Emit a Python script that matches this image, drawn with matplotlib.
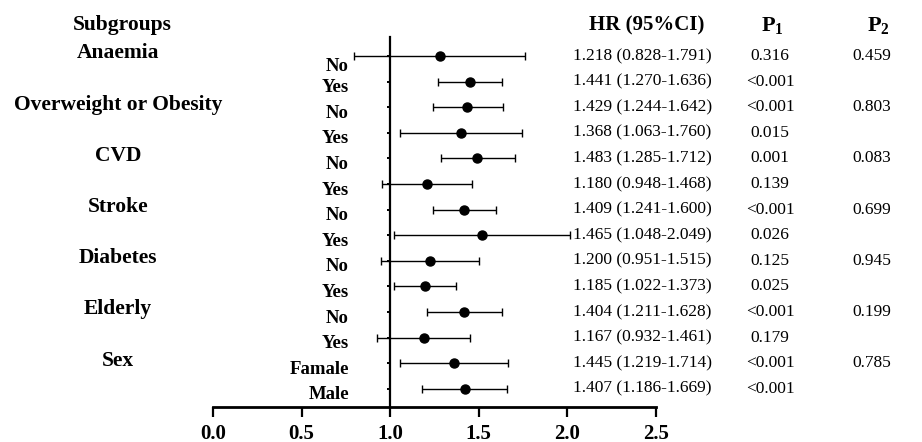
import matplotlib
matplotlib.use("Agg")
import matplotlib.pyplot as plt
from matplotlib.transforms import blended_transform_factory

# Daten
groups = ["Anaemia", "Overweight or Obesity", "CVD", "Stroke", "Diabetes", "Elderly", "Sex"]
levels = ["No", "Yes", "No", "Yes", "No", "Yes", "No", "Yes", "No", "Yes", "No", "Yes", "Famale", "Male"]
hr_text = ["1.218 (0.828-1.791)", "1.441 (1.270-1.636)", "1.429 (1.244-1.642)", "1.368 (1.063-1.760)",
           "1.483 (1.285-1.712)", "1.180 (0.948-1.468)", "1.409 (1.241-1.600)", "1.465 (1.048-2.049)",
           "1.200 (0.951-1.515)", "1.185 (1.022-1.373)", "1.404 (1.211-1.628)", "1.167 (0.932-1.461)",
           "1.445 (1.219-1.714)", "1.407 (1.186-1.669)"]
p1 = ["0.316", "<0.001", "<0.001", "0.015", "0.001", "0.139", "<0.001", "0.026",
      "0.125", "0.025", "<0.001", "0.179", "<0.001", "<0.001"]
p2 = ["0.459", "0.803", "0.083", "0.699", "0.945", "0.199", "0.785"]

# Punkte wie im Bild gezeichnet
est = [1.28, 1.449, 1.436, 1.398, 1.492, 1.205, 1.417, 1.52, 1.224, 1.195, 1.415, 1.192, 1.361, 1.421]
lo = [0.795, 1.267, 1.242, 1.055, 1.284, 0.951, 1.239, 1.023, 0.948, 1.023, 1.21, 0.928, 1.055, 1.182]
hi = [1.759, 1.631, 1.637, 1.744, 1.702, 1.464, 1.595, 2.016, 1.501, 1.37, 1.633, 1.452, 1.665, 1.661]
xticks = [0.0, 0.5, 1.0, 1.5, 2.0, 2.5]

serif = ["Liberation Serif", "DejaVu Serif"]
plt.rcParams["font.family"] = serif
plt.rcParams["mathtext.fontset"] = "custom"
plt.rcParams["mathtext.rm"] = "Liberation Serif"
plt.rcParams["mathtext.bf"] = "Liberation Serif:bold"

W, H = 922, 442
fig = plt.figure(figsize=(W / 100, H / 100), dpi=100)
ax = fig.add_axes([213 / W, 1 - 407 / H, (656 - 213) / W, (407 - 37) / H])

rows = list(range(len(levels)))
xerr = [[e - l for e, l in zip(est, lo)], [h - e for e, h in zip(est, hi)]]
ax.errorbar(est, rows, xerr=xerr, fmt="o", color="black", ms=6.5,
            elinewidth=1.0, capsize=3, capthick=1.0)

ax.set_xlim(0, 2.5)
ax.set_ylim((407 - 56) / 25.6, (37 - 56) / 25.6)
ax.set_xticks(xticks)
ax.set_xticklabels([f"{t:.1f}" for t in xticks], fontsize=15, fontweight="bold")
ax.set_yticks(rows)
ax.set_yticklabels([])
ax.spines["top"].set_visible(False)
ax.spines["right"].set_visible(False)
ax.spines["left"].set_position(("data", 1.0))
ax.spines["left"].set_linewidth(1.6)
ax.spines["bottom"].set_linewidth(2.0)
ax.tick_params(axis="x", length=7, width=1.6, pad=5)
ax.tick_params(axis="y", length=2.5, width=1.4)

tr = blended_transform_factory(fig.transFigure, ax.transData)

# Untergruppen links
for i, lab in enumerate(levels):
    off = 0.4 if i == 0 else 0.24
    ax.text(349 / W, i + off, lab, transform=tr, ha="right", va="center",
            fontsize=13.5, fontweight="bold")

for g, name in enumerate(groups):
    ax.text(118 / W, 2 * g - 0.1, name, transform=tr, ha="center", va="center",
            fontsize=15.5, fontweight="bold")

# Tabellen rechts
for i in rows:
    ax.text(573 / W, i, hr_text[i], transform=tr, ha="left", va="center", fontsize=12.5)
    ax.text(770 / W, i, p1[i], transform=tr, ha="center", va="center", fontsize=12.5)
for g, p in enumerate(p2):
    ax.text(872 / W, 2 * g, p, transform=tr, ha="center", va="center", fontsize=12.5)

hy = 1 - 25 / H
fig.text(122 / W, hy, "Subgroups", ha="center", va="center", fontsize=15.5, fontweight="bold")
fig.text(647 / W, hy, "HR (95%CI)", ha="center", va="center", fontsize=15, fontweight="bold")
fig.text(772 / W, hy, r"$\mathbf{P_1}$", ha="center", va="center", fontsize=16)
fig.text(878 / W, hy, r"$\mathbf{P_2}$", ha="center", va="center", fontsize=16)

fig.savefig("out.png", dpi=100)
